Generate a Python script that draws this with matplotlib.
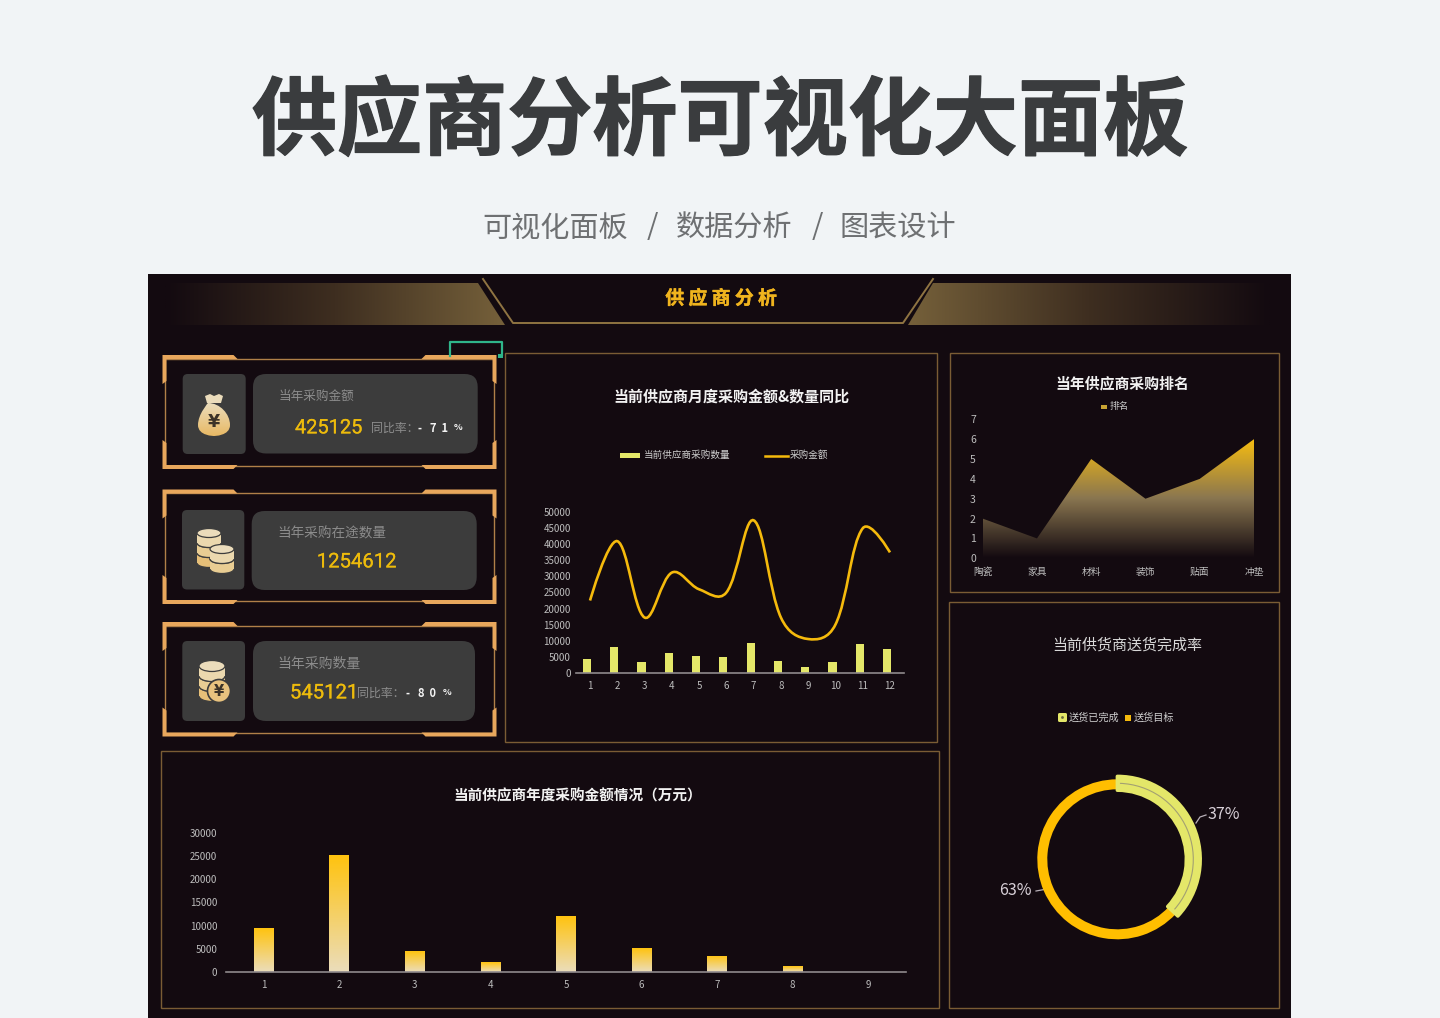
import numpy as np
import matplotlib
matplotlib.use('Agg')
import matplotlib.pyplot as plt
import matplotlib.patheffects as pe
from matplotlib.patches import Rectangle, FancyBboxPatch, Polygon, Ellipse, Circle, Arc, PathPatch
from matplotlib.path import Path
from matplotlib.colors import to_rgba

plt.rcParams['font.family'] = ['Noto Sans CJK SC', 'DejaVu Sans']

W, H = 1440, 1018

months = list(range(1, 13))
qty_bars = [4400, 8000, 3400, 6100, 5200, 4900, 9400, 3700, 1900, 3200, 8800, 7300]
amount_line = [22500, 41000, 17200, 31200, 26000, 25000, 47500, 17200, 10500, 15000, 45000, 37500]
month_yticks = list(range(0, 50001, 5000))

rank_names = ['陶瓷', '家具', '材料', '装饰', '贴面', '冲垫']
rank_values = [2, 1, 5, 3, 4, 6]
rank_yticks = list(range(0, 8))

year_labels = list(range(1, 10))
year_values = [9500, 25300, 4500, 2100, 12000, 5100, 3500, 1200, 0]
year_yticks = list(range(0, 30001, 5000))

delivery_values = [37, 63]
delivery_labels = ['37%', '63%']

PANEL = '#130A10'
GOLD = '#F5BA0C'
LIME = '#E4E769'
FRAME = '#7A5C34'
CARD = '#E8A75C'
BOX = '#3C3C3C'
TICK = '#BDBDBD'

fig = plt.figure(figsize=(W / 100, H / 100), dpi=100, facecolor='#F1F4F6')
bg = fig.add_axes([0, 0, 1, 1])
bg.set_xlim(0, W)
bg.set_ylim(H, 0)
bg.axis('off')
bg.set_autoscale_on(False)


def px_axes(l, t, r, b):
    ax = fig.add_axes([l / W, 1 - b / H, (r - l) / W, (b - t) / H])
    ax.patch.set_alpha(0)
    for s in ax.spines.values():
        s.set_visible(False)
    return ax


def gradient(ax, extent, c0, c1, clip, horizontal=False, z=2, mid=None):
    # c0 is top (or left) colour, c1 bottom (or right), mid an optional middle stop
    stops = [c0, c1] if mid is None else [c0, mid, c1]
    rgba = np.array([to_rgba(c) for c in stops])
    t = np.linspace(0, 1, 128)
    pos = np.linspace(0, 1, len(stops))
    img = np.stack([np.interp(t, pos, rgba[:, k]) for k in range(4)], axis=1)[:, None, :]
    if horizontal:
        img = img.transpose(1, 0, 2)
    im = ax.imshow(img, extent=extent, aspect='auto', zorder=z, interpolation='bilinear')
    im.set_clip_path(clip)
    return im


def txt(x, y, s, size, color, weight='normal', ha='center', z=6, stroke=0, **kw):
    # the CJK face sits high in its box, so push it down in proportion to size
    t = bg.text(x, y + 0.13 * size, s, fontsize=size, color=color, fontweight=weight, ha=ha, va='center', zorder=z, **kw)
    if stroke:
        t.set_path_effects([pe.withStroke(linewidth=stroke, foreground=color)])


def panel(l, t, r, b):
    bg.add_patch(Rectangle((l, t), r - l, b - t, fill=False, ec=FRAME, lw=1, zorder=2))


def rbox(l, t, r, b, rad):
    bg.add_patch(FancyBboxPatch((l + rad, t + rad), r - l - 2 * rad, b - t - 2 * rad,
                                boxstyle='round,pad=%f,rounding_size=%f' % (rad, rad),
                                fc=BOX, ec='none', zorder=3))


def card(top, bot):
    x0, x1 = 162.5, 496.5
    for cx, sx in ((x0, 1), (x1, -1)):
        for cy, sy in ((top, 1), (bot, -1)):
            pts = [(0, 0), (71, 0), (75, 4), (4, 4), (4, 26), (0, 29)]
            bg.add_patch(Polygon([(cx + sx * p, cy + sy * q) for p, q in pts], fc=CARD, ec='none', zorder=3))
    bg.add_patch(Rectangle((x0 + 2.5, top + 3.5), x1 - x0 - 5, bot - top - 7, fill=False, ec='#B08048', lw=1, zorder=2))


def coin_stack(cx, y_top, rx, ry, hgt, n):
    # drawn bottom disc first so upper ones cover it
    for i in range(n - 1, -1, -1):
        y = y_top + i * hgt
        side = ['#EBD8AE', '#E9CD93', '#E6BF78'][i]
        bg.add_patch(Ellipse((cx, y + hgt), 2 * rx, 2 * ry, fc=side, ec=BOX, lw=0.9, zorder=4))
        bg.add_patch(Rectangle((cx - rx, y), 2 * rx, hgt, fc=side, ec='none', zorder=4))
        bg.add_patch(Ellipse((cx, y), 2 * rx, 2 * ry, fc='#EBDCBB', ec=BOX, lw=0.9, zorder=4))


# page heading
txt(720, 115, '供应商分析可视化大面板', 61.3, '#3A3C3E', 'bold', stroke=0.9)
txt(555, 226, '可视化面板', 21, '#6E7072')
txt(652, 224, '/', 21, '#6E7072')
txt(734, 226, '数据分析', 21, '#6E7072')
txt(817, 224, '/', 21, '#6E7072')
txt(898, 226, '图表设计', 21, '#6E7072')

# dark board
bg.add_patch(Rectangle((148, 274), 1143, 744, fc=PANEL, ec='none', zorder=1))

# board header
left_band = Polygon([(165, 283), (478, 283), (505, 325), (165, 325)], fc='none', ec='none', transform=bg.transData)
right_band = Polygon([(933, 283), (1270, 283), (1270, 325), (908, 325)], fc='none', ec='none', transform=bg.transData)
bg.add_patch(left_band)
bg.add_patch(right_band)
gradient(bg, (165, 505, 325, 283), PANEL, '#75603A', left_band, horizontal=True, mid='#3E2E20')
gradient(bg, (908, 1270, 325, 283), '#75603A', PANEL, right_band, horizontal=True, mid='#3E2E20')
bg.plot([483, 513, 903, 933], [279, 323, 323, 279], color='#8F7442', lw=1.4, zorder=3)
txt(721, 297, '供 应 商 分 析', 13.6, '#F0B41E', 'bold', stroke=0.3)

# kpi cards
card(355, 469)
card(489.5, 604)
card(622, 736.5)
bg.plot([450, 450, 502, 502], [356, 342, 342, 355], color='#2FB58A', lw=1.6, zorder=4)
bg.add_patch(Rectangle((498, 354), 5, 4, fc='#2FB58A', ec='none', zorder=5))

rbox(182.7, 374, 245.7, 454, 5)
rbox(253, 374, 477.7, 453.5, 13)
rbox(182, 510, 244.3, 589.5, 5)
rbox(251.7, 511, 476.7, 590, 13)
rbox(182.3, 641, 245, 721, 5)
rbox(253, 641, 475, 721, 13)

txt(279, 395, '当年采购金额', 9.1, '#8C8C8C', ha='left')
txt(277, 532.5, '当年采购在途数量', 9.8, '#8C8C8C', ha='left')
txt(277, 662.5, '当年采购数量', 10, '#8C8C8C', ha='left')

num = dict(family='Roboto')
txt(328.5, 426, '425125', 14.4, '#EDBB0C', stroke=0.15, **num)
txt(356.5, 560, '1254612', 14.6, '#EDBB0C', stroke=0.15, **num)
txt(324, 691, '545121', 14.6, '#EDBB0C', stroke=0.15, **num)
txt(371, 427, '同比率：', 8.6, '#8E8E8E', ha='left')
txt(420, 427, '-', 8, '#F4F4F4', 'bold')
txt(439, 427, '7  1', 8, '#F4F4F4', 'bold')
txt(458, 427, '%', 6.5, '#F4F4F4', 'bold')
txt(357, 692, '同比率：', 8.6, '#8E8E8E', ha='left')
txt(408, 692, '-', 8, '#F4F4F4', 'bold')
txt(427, 692, '8  0', 8, '#F4F4F4', 'bold')
txt(447, 692, '%', 6.5, '#F4F4F4', 'bold')

# money bag icon
body = PathPatch(Path([(208, 403), (220, 403), (230, 414), (230, 425), (230, 436), (214, 436), (214, 436),
                       (214, 436), (198, 436), (198, 425), (198, 414), (208, 403), (208, 403)],
                      [Path.MOVETO] + [Path.CURVE4] * 12), transform=bg.transData, fc='none', ec='none')
cap = Polygon([(205, 396), (210, 394), (214, 396), (219, 394), (223, 396), (221, 403), (207, 403)],
              transform=bg.transData, fc='#EBDCBB', ec='none', zorder=4)
bg.add_patch(body)
bg.add_patch(cap)
gradient(bg, (198, 230, 437, 403), '#EBDCBB', '#E8B862', body, z=4)
txt(214, 420, '¥', 12.5, '#3C3328', 'bold', family='DejaVu Sans')

# coin icons
coin_stack(209, 533, 12, 4.5, 10, 3)
coin_stack(222, 549, 12, 4.5, 10, 2)
coin_stack(212, 666, 13, 5.5, 10, 3)
bg.add_patch(Circle((219, 691), 11.5, fc='#E8C27E', ec=BOX, lw=1.2, zorder=5))
txt(219, 690, '¥', 10.5, '#3C3328', 'bold', family='DejaVu Sans')

# panels
panel(505, 352.5, 937, 741.5)
panel(950, 353, 1279, 592)
panel(949, 602, 1279, 1008)
panel(161, 750.5, 939, 1008)

txt(731, 395, '当前供应商月度采购金额&数量同比', 10.8, '#F2F2F2', 'bold')
txt(578, 794, '当前供应商年度采购金额情况（万元）', 10.5, '#F2F2F2', 'bold')
txt(1122, 382, '当年供应商采购排名', 10.7, '#F2F2F2', 'bold')
txt(1127, 644, '当前供货商送货完成率', 10.8, '#D8D8D8')

# legends
bg.add_patch(Rectangle((620, 453), 20, 5, fc=LIME, ec='none', zorder=4))
txt(644, 454.5, '当前供应商采购数量', 6.9, '#D0D0D0', ha='left')
bg.plot([765, 788], [455.5, 455.5], color=GOLD, lw=1.8, zorder=4)
txt(790, 454.5, '采购金额', 6.9, '#D0D0D0', ha='left')
bg.add_patch(Rectangle((1101, 405), 6, 4, fc='#C9A433', ec='none', zorder=4))
txt(1110, 406, '排名', 6.9, '#C8C8C8', ha='left')
bg.add_patch(FancyBboxPatch((1059, 714), 7, 7, boxstyle='round,pad=1,rounding_size=1.5', fc=LIME, ec='none', zorder=4))
bg.add_patch(Circle((1062.5, 717.5), 1.4, fc='#6A6A40', ec='none', zorder=5))
txt(1069, 717, '送货已完成', 7.3, '#D0D0D0', ha='left')
bg.add_patch(Rectangle((1125, 715), 6, 6, fc=GOLD, ec='none', zorder=4))
txt(1134, 717, '送货目标', 7.3, '#D0D0D0', ha='left')

# monthly chart
ax1 = px_axes(576.4, 512.3, 903.6, 672.7)
ax1.set_xlim(0.5, 12.5)
ax1.set_ylim(0, 50000)
ax1.bar(np.array(months) - 0.11, qty_bars, width=0.3, color=LIME, zorder=2)

# smooth line through the readings, handles lean a little towards the longer on-screen segment
xs = np.array(months, dtype=float)
ys = np.array(amount_line, dtype=float)
sx, sy = 27.27, 160.4 / 50000
seg = np.hypot(np.diff(xs) * sx, np.diff(ys) * sy)
hx_out, hy_out = np.zeros(12), np.zeros(12)
hx_in, hy_in = np.zeros(12), np.zeros(12)
for i in range(1, 11):
    f_in = 0.5 + 0.5 * (seg[i - 1] / (seg[i - 1] + seg[i]) - 0.5)
    f_out = 1 - f_in
    dx, dy = xs[i + 1] - xs[i - 1], ys[i + 1] - ys[i - 1]
    hx_in[i], hy_in[i] = 0.36 * f_in * dx, 0.36 * f_in * dy
    hx_out[i], hy_out[i] = 0.36 * f_out * dx, 0.36 * f_out * dy
verts = [(xs[0], ys[0])]
codes = [Path.MOVETO]
for i in range(11):
    verts += [(xs[i] + hx_out[i], ys[i] + hy_out[i]), (xs[i + 1] - hx_in[i + 1], ys[i + 1] - hy_in[i + 1]), (xs[i + 1], ys[i + 1])]
    codes += [Path.CURVE4] * 3
ax1.add_patch(PathPatch(Path(verts, codes), fc='none', ec=GOLD, lw=1.9, zorder=3))
ax1.set_xticks(months)
ax1.set_yticks(month_yticks)
ax1.spines['bottom'].set_visible(True)
ax1.spines['bottom'].set_color('#8F8A8C')
ax1.spines['bottom'].set_linewidth(1.2)
ax1.tick_params(length=0, labelsize=7, labelcolor=TICK, pad=4)
ax1.tick_params(axis='x', pad=6)

# ranking area
ax2 = px_axes(982.7, 419.3, 1254, 558.3)
ax2.set_autoscale_on(False)
ax2.set_xlim(0, 5)
ax2.set_ylim(0, 7)
rx = list(range(len(rank_values)))
outline = Polygon(list(zip(rx, rank_values)) + [(rx[-1], 0), (rx[0], 0)], transform=ax2.transData, fc='none', ec='none')
ax2.add_patch(outline)
gradient(ax2, (0, 5, 0, 6), '#F7BD10', PANEL, outline, mid='#8A7650')
ax2.set_xticks(rx)
ax2.set_xticklabels(rank_names)
ax2.set_yticks(rank_yticks)
ax2.tick_params(length=0, labelsize=7, labelcolor=TICK, pad=6)
ax2.tick_params(axis='y', labelsize=7.5, pad=5)

# yearly bars
ax3 = px_axes(225.7, 833.3, 906.1, 971.7)
ax3.set_autoscale_on(False)
ax3.set_xlim(0.5, 9.5)
ax3.set_ylim(0, 30000)
bars = ax3.bar(year_labels, year_values, width=0.257, color='none')
for rect in bars:
    h = rect.get_height()
    if h > 0:
        gradient(ax3, (rect.get_x(), rect.get_x() + rect.get_width(), 0, h), '#FFC30F', '#EBDDBB', rect)
ax3.set_xticks(year_labels)
ax3.set_yticks(year_yticks)
ax3.spines['bottom'].set_visible(True)
ax3.spines['bottom'].set_color('#8F8A8C')
ax3.spines['bottom'].set_linewidth(1.2)
ax3.tick_params(length=0, labelsize=7, labelcolor=TICK, pad=6)
ax3.tick_params(axis='x', pad=6)

# delivery ring
ax4 = px_axes(1017.3, 759.3, 1217.3, 959.3)
wedges, _ = ax4.pie(delivery_values, startangle=90, counterclock=False, colors=[LIME, '#FFBE00'])
ax4.set_xlim(-100, 100)
ax4.set_ylim(-100, 100)
wedges[1].set_radius(80)
wedges[1].set_width(10)
wedges[1].set_zorder(2)
wedges[0].set_radius(83)
wedges[0].set_width(14)
wedges[0].set_edgecolor(LIME)
wedges[0].set_linewidth(2.4)
wedges[0].set_joinstyle('round')
wedges[0].set_zorder(3)
sweep = 360 * delivery_values[0] / sum(delivery_values)
ax4.add_patch(Arc((0, 0), 152, 152, theta1=90 - sweep + 2, theta2=88, color='#A3A072', lw=0.8, zorder=4))

bg.plot([1196, 1200, 1206], [823, 817, 815], color='#B8B0B8', lw=0.9, zorder=5)
bg.plot([1036, 1047], [891, 889], color='#B8B0B8', lw=0.9, zorder=5)
txt(1207, 813.5, delivery_labels[0], 11.5, '#D8D0D8', ha='left')
txt(1032, 889.5, delivery_labels[1], 11.5, '#D8D0D8', ha='right')

fig.savefig('out.png', dpi=100, facecolor=fig.get_facecolor())
